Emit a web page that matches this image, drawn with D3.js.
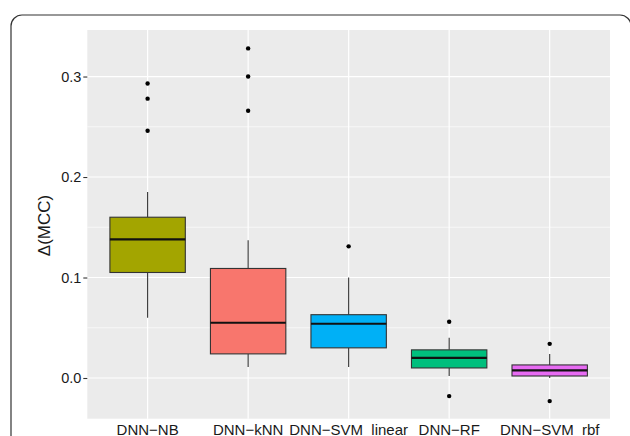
<!DOCTYPE html>
<html>
<head>
<meta charset="utf-8">
<script src="https://cdn.jsdelivr.net/npm/d3@7"></script>
<style>
  body { margin: 0; background: #fff; }
  text { font-family: "Liberation Sans", Arial, sans-serif; }
</style>
</head>
<body>
<div id="chart"></div>
<script>
// values (delta MCC per method)
var categories = ["DNN\u2212NB", "DNN\u2212kNN", "DNN\u2212SVM  linear", "DNN\u2212RF", "DNN\u2212SVM  rbf"];
var whiskerLow  = [0.060, 0.011, 0.011, 0.002, 0.000];
var q1          = [0.105, 0.024, 0.030, 0.010, 0.002];
var medians     = [0.138, 0.055, 0.054, 0.020, 0.0076];
var q3          = [0.160, 0.109, 0.063, 0.028, 0.013];
var whiskerHigh = [0.185, 0.137, 0.100, 0.040, 0.024];
var outliers    = [[0.293, 0.278, 0.246], [0.328, 0.300, 0.266], [0.131], [0.056, -0.018], [0.034, -0.023]];
var fills       = ["#A3A500", "#F8766D", "#00B0F6", "#00BF7D", "#E76BF3"];
var majorTicks  = [0.0, 0.1, 0.2, 0.3];
var minorTicks  = [0.05, 0.15, 0.25];

var W = 630, H = 436;
var margin = {top: 30, right: 20, bottom: 17, left: 87.3},
    width = 610 - margin.left,
    height = 418.7 - margin.top;

var svg = d3.select("#chart").append("svg")
  .attr("width", W)
  .attr("height", H);

// outer rounded frame
svg.append("rect")
  .attr("x", 11).attr("y", 15)
  .attr("width", 620).attr("height", 450)
  .attr("rx", 11)
  .attr("fill", "none")
  .attr("stroke", "#333")
  .attr("stroke-width", 1.2);

var g = svg.append("g")
  .attr("transform", "translate(" + margin.left + "," + margin.top + ")");

var x = d3.scaleBand().domain(categories)
  .range([0, width])
  .paddingOuter(0.1)
  .paddingInner(0);
var bw = x.bandwidth();
var boxW = bw * 0.75;
var cx = function(i) { return x(categories[i]) + bw / 2; };

var y = d3.scaleLinear().domain([-0.0405, 0.3463])
  .range([height, 0]);

// panel background
g.append("rect")
  .attr("width", width).attr("height", height)
  .attr("fill", "#EBEBEB");

// minor gridlines
g.selectAll(".minor").data(minorTicks).enter().append("line")
  .attr("x1", 0).attr("x2", width)
  .attr("y1", function(d) { return y(d); })
  .attr("y2", function(d) { return y(d); })
  .attr("stroke", "#fff").attr("stroke-width", 0.6);

// major gridlines
g.selectAll(".major").data(majorTicks).enter().append("line")
  .attr("x1", 0).attr("x2", width)
  .attr("y1", function(d) { return y(d); })
  .attr("y2", function(d) { return y(d); })
  .attr("stroke", "#fff").attr("stroke-width", 1.2);

g.selectAll(".vgrid").data(categories).enter().append("line")
  .attr("x1", function(d, i) { return cx(i); })
  .attr("x2", function(d, i) { return cx(i); })
  .attr("y1", 0).attr("y2", height)
  .attr("stroke", "#fff").attr("stroke-width", 1.2);

// y axis
var yAxis = d3.axisLeft(y)
  .tickValues(majorTicks)
  .tickFormat(d3.format(".1f"))
  .tickSize(4)
  .tickPadding(2);
var ya = g.append("g").call(yAxis);
ya.select(".domain").remove();
ya.selectAll(".tick line").attr("stroke", "#333").attr("stroke-width", 1.1);
ya.selectAll(".tick text")
  .attr("fill", "#1a1a1a")
  .style("font-size", "14.5px");

// x axis
var xAxis = d3.axisBottom(x).tickSize(0).tickPadding(5.5);
var xa = g.append("g")
  .attr("transform", "translate(0," + height + ")")
  .call(xAxis);
xa.select(".domain").remove();
xa.selectAll(".tick text")
  .attr("fill", "#1a1a1a")
  .style("font-size", "15px")
  .style("white-space", "pre");

// y axis label
svg.append("text")
  .attr("transform", "translate(50," + 225.5 + ") rotate(-90)")
  .style("text-anchor", "middle")
  .style("font-size", "17px")
  .attr("fill", "#1a1a1a")
  .text("\u0394(MCC)");

// boxplots
var boxes = g.selectAll(".box").data(categories).enter().append("g")
  .attr("class", "box");

boxes.append("line")
  .attr("x1", function(d, i) { return cx(i); })
  .attr("x2", function(d, i) { return cx(i); })
  .attr("y1", function(d, i) { return y(q3[i]); })
  .attr("y2", function(d, i) { return y(whiskerHigh[i]); })
  .attr("stroke", "#333").attr("stroke-width", 1.1);

boxes.append("line")
  .attr("x1", function(d, i) { return cx(i); })
  .attr("x2", function(d, i) { return cx(i); })
  .attr("y1", function(d, i) { return y(q1[i]); })
  .attr("y2", function(d, i) { return y(whiskerLow[i]); })
  .attr("stroke", "#333").attr("stroke-width", 1.1);

boxes.append("rect")
  .attr("x", function(d, i) { return cx(i) - boxW / 2; })
  .attr("width", boxW)
  .attr("y", function(d, i) { return y(q3[i]); })
  .attr("height", function(d, i) { return y(q1[i]) - y(q3[i]); })
  .attr("fill", function(d, i) { return fills[i]; })
  .attr("stroke", "#333").attr("stroke-width", 1.1);

boxes.append("line")
  .attr("x1", function(d, i) { return cx(i) - boxW / 2; })
  .attr("x2", function(d, i) { return cx(i) + boxW / 2; })
  .attr("y1", function(d, i) { return y(medians[i]); })
  .attr("y2", function(d, i) { return y(medians[i]); })
  .attr("stroke", "#111").attr("stroke-width", 2.2);

// outliers
boxes.each(function(d, i) {
  d3.select(this).selectAll("circle").data(outliers[i]).enter().append("circle")
    .attr("cx", cx(i))
    .attr("cy", function(v) { return y(v); })
    .attr("r", 2.2)
    .attr("fill", "#000");
});
</script>
</body>
</html>
